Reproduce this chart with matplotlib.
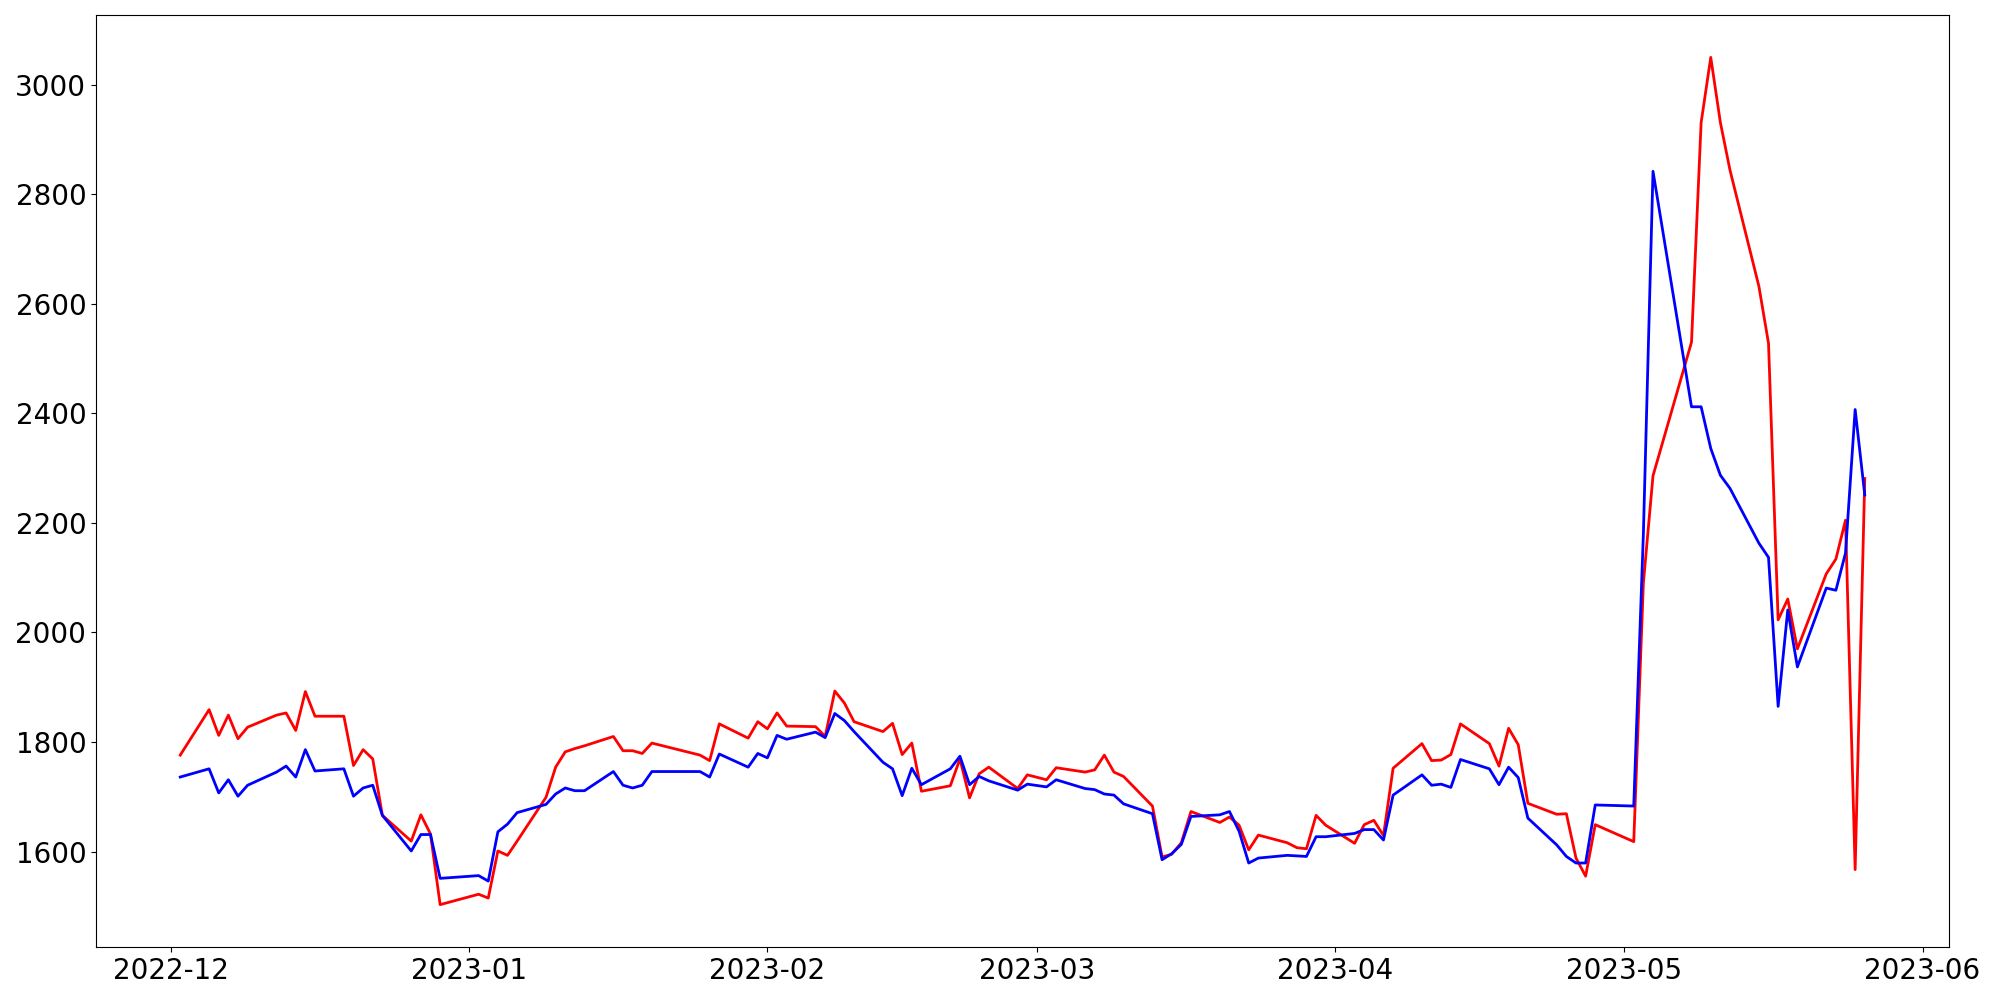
import numpy as np
import pandas as pd
import matplotlib
matplotlib.use('Agg')
import matplotlib.pyplot as plt
import matplotlib.dates as mdates

# 営業日 (2022-12-02 ～ 2023-05-26, 休場日を除く)
holidays = ['2022-12-30', '2023-01-23', '2023-01-24', '2023-03-01',
            '2023-05-01', '2023-05-05']
dates = pd.bdate_range('2022-12-02', '2023-05-26')
dates = dates[~dates.isin(pd.to_datetime(holidays))]

red_dec = [1776, 1859, 1812, 1849, 1806, 1827, 1849, 1853, 1821, 1892,
           1847, 1847, 1757, 1786, 1769, 1666, 1619, 1667, 1632, 1503]
red_jan = [1522, 1515, 1601, 1593, 1619, 1699, 1754, 1782, 1788, 1793,
           1810, 1784, 1784, 1779, 1798, 1776, 1766, 1833, 1807, 1837]
red_feb = [1824, 1853, 1829, 1828, 1810, 1893, 1871, 1837, 1819, 1834,
           1777, 1798, 1710, 1720, 1769, 1698, 1742, 1754, 1715, 1740]
red_mar = [1731, 1753, 1745, 1749, 1776, 1745, 1737, 1683, 1590, 1595, 1616,
           1673, 1653, 1663, 1648, 1603, 1630, 1616, 1607, 1605, 1666, 1648]
red_apr = [1615, 1649, 1657, 1629, 1752, 1797, 1766, 1767, 1777, 1833,
           1797, 1756, 1825, 1795, 1688, 1668, 1669, 1588, 1555, 1649]
red_may = [1618, 2090, 2286, 2530, 2931, 3050, 2931, 2844, 2632, 2528,
           2023, 2061, 1970, 2107, 2134, 2205, 1567, 2281]

blue_dec = [1736, 1751, 1707, 1731, 1701, 1721, 1745, 1756, 1736, 1786,
            1747, 1751, 1701, 1716, 1721, 1666, 1601, 1631, 1631, 1551]
blue_jan = [1556, 1546, 1636, 1650, 1671, 1686, 1705, 1716, 1711, 1711,
            1746, 1721, 1716, 1721, 1746, 1746, 1736, 1778, 1754, 1779]
blue_feb = [1771, 1812, 1805, 1818, 1808, 1852, 1839, 1819, 1763, 1751,
            1702, 1752, 1722, 1751, 1774, 1722, 1737, 1729, 1712, 1723]
blue_mar = [1718, 1731, 1715, 1713, 1705, 1703, 1687, 1669, 1585, 1596, 1613,
            1664, 1667, 1673, 1637, 1579, 1588, 1593, 1592, 1591, 1627, 1627]
blue_apr = [1633, 1640, 1640, 1621, 1703, 1740, 1721, 1723, 1717, 1768,
            1751, 1722, 1754, 1735, 1661, 1612, 1591, 1579, 1579, 1685]
blue_may = [1683, 2180, 2842, 2412, 2412, 2336, 2287, 2263, 2163, 2137,
            1865, 2041, 1937, 2081, 2077, 2145, 2407, 2251]

red = red_dec + red_jan + red_feb + red_mar + red_apr + red_may
blue = blue_dec + blue_jan + blue_feb + blue_mar + blue_apr + blue_may

fig, ax = plt.subplots(figsize=(20, 10), dpi=100)
ax.plot(dates, red, color='red', linewidth=2)
ax.plot(dates, blue, color='blue', linewidth=2)

ax.xaxis.set_major_locator(mdates.MonthLocator())
ax.xaxis.set_major_formatter(mdates.DateFormatter('%Y-%m'))
ax.tick_params(labelsize=20)

fig.subplots_adjust(left=0.048, right=0.9745, bottom=0.053, top=0.985)
fig.savefig('out.png')
